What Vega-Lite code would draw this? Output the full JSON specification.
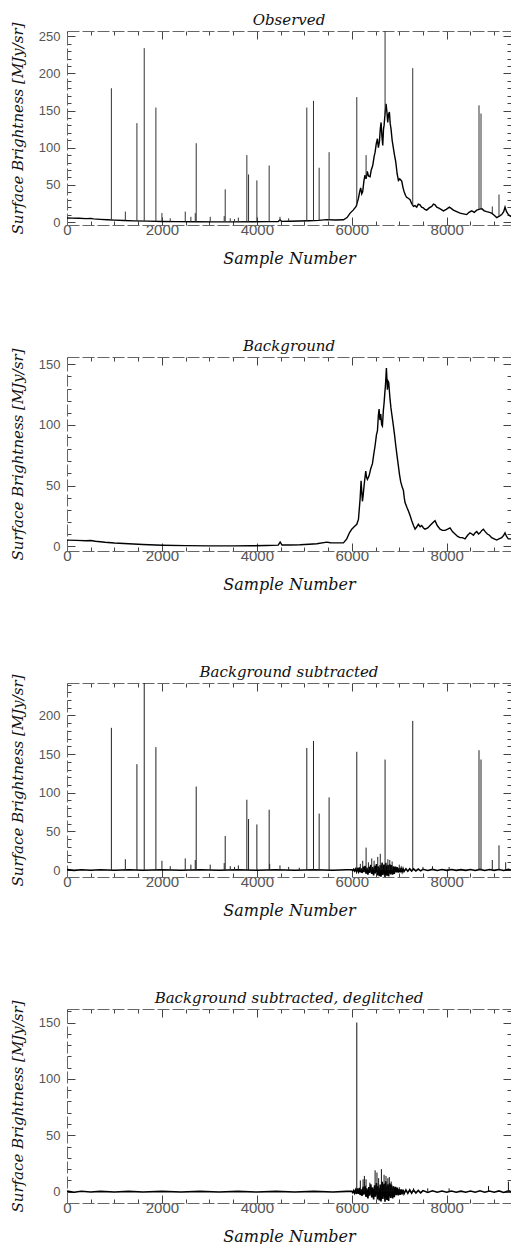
{
  "$schema": "https://vega.github.io/schema/vega-lite/v6.json",
  "background": "white",
  "padding": {"left": 10, "top": 12, "right": 0, "bottom": 0},
  "spacing": 72,
  "config": {
    "view": {"stroke": null},
    "axis": {
      "grid": false,
      "domainColor": "#666",
      "domainDash": [12, 3],
      "domainWidth": 1,
      "tickColor": "#444",
      "tickWidth": 1,
      "labelFont": "Liberation Sans",
      "labelColor": "#555",
      "labelFlush": false,
      "labelOverlap": false,
      "titleFont": "DejaVu Serif",
      "titleFontStyle": "italic",
      "titleFontWeight": "normal",
      "titleColor": "#111"
    },
    "title": {"font": "DejaVu Serif", "fontStyle": "italic", "fontWeight": "normal", "fontSize": 15, "color": "#111", "offset": -6, "frame": "group"}
  },
  "datasets": {
    "observed": [
      {"s":0,"v":5.5},{"s":100,"v":5.2},{"s":250,"v":5.0},{"s":400,"v":4.6},{"s":500,"v":4.9},{"s":560,"v":4.2},{"s":700,"v":3.6},{"s":850,"v":3.0},{"s":1000,"v":2.5},{"s":1200,"v":2.0},{"s":1400,"v":1.6},{"s":1700,"v":1.2},{"s":2000,"v":0.8},{"s":2300,"v":0.5},{"s":2700,"v":0.3},{"s":3100,"v":0.2},{"s":3500,"v":0.2},{"s":3900,"v":0.3},{"s":4200,"v":0.5},{"s":4450,"v":0.8},{"s":4490,"v":3.0},{"s":4520,"v":0.9},{"s":4700,"v":1.0},{"s":4900,"v":1.3},{"s":5100,"v":1.8},{"s":5300,"v":2.2},{"s":5470,"v":3.2},{"s":5650,"v":2.8},{"s":5824,"v":3.0},{"s":5900,"v":6},{"s":5965,"v":12},{"s":6030,"v":16},{"s":6091,"v":21},{"s":6140,"v":32},{"s":6170,"v":42},{"s":6187,"v":46},{"s":6210,"v":38},{"s":6230,"v":41},{"s":6255,"v":55},{"s":6278,"v":63},{"s":6300,"v":58},{"s":6327,"v":68},{"s":6350,"v":62},{"s":6385,"v":61},{"s":6410,"v":70},{"s":6441,"v":76},{"s":6470,"v":88},{"s":6491,"v":94},{"s":6515,"v":105},{"s":6540,"v":112},{"s":6560,"v":100},{"s":6582,"v":108},{"s":6600,"v":125},{"s":6617,"v":134},{"s":6635,"v":115},{"s":6652,"v":103},{"s":6668,"v":125},{"s":6680,"v":130},{"s":6700,"v":145},{"s":6722,"v":159},{"s":6740,"v":148},{"s":6757,"v":134},{"s":6775,"v":145},{"s":6792,"v":148},{"s":6810,"v":132},{"s":6827,"v":125},{"s":6850,"v":110},{"s":6877,"v":99},{"s":6900,"v":90},{"s":6926,"v":81},{"s":6955,"v":65},{"s":6982,"v":56},{"s":7010,"v":58},{"s":7052,"v":55},{"s":7080,"v":46},{"s":7101,"v":41},{"s":7130,"v":36},{"s":7158,"v":33},{"s":7190,"v":32},{"s":7228,"v":30},{"s":7260,"v":25},{"s":7298,"v":21},{"s":7330,"v":22},{"s":7368,"v":20},{"s":7400,"v":24},{"s":7438,"v":23},{"s":7470,"v":20},{"s":7508,"v":19},{"s":7540,"v":17},{"s":7579,"v":16},{"s":7630,"v":19},{"s":7684,"v":21},{"s":7720,"v":24},{"s":7754,"v":23},{"s":7790,"v":20},{"s":7825,"v":19},{"s":7880,"v":17},{"s":7930,"v":15},{"s":7990,"v":17},{"s":8056,"v":20},{"s":8100,"v":18},{"s":8140,"v":16},{"s":8210,"v":14},{"s":8281,"v":12},{"s":8350,"v":11},{"s":8421,"v":10},{"s":8470,"v":13},{"s":8526,"v":15},{"s":8580,"v":13},{"s":8632,"v":16},{"s":8680,"v":17},{"s":8737,"v":18},{"s":8790,"v":15},{"s":8842,"v":14},{"s":8900,"v":13},{"s":8947,"v":12},{"s":9000,"v":9},{"s":9053,"v":6},{"s":9110,"v":8},{"s":9158,"v":10},{"s":9200,"v":14},{"s":9228,"v":20},{"s":9260,"v":14},{"s":9298,"v":10},{"s":9354,"v":7}
    ],
    "observedSpikes": [
      {"s":935,"base":2.8,"v":180},{"s":1229,"base":2.0,"v":14},{"s":1473,"base":1.6,"v":133},{"s":1627,"base":1.3,"v":234},{"s":1873,"base":1.0,"v":154},{"s":2000,"base":0.8,"v":12},{"s":2175,"base":0.6,"v":5},{"s":2491,"base":0.4,"v":14},{"s":2610,"base":0.3,"v":7},{"s":2702,"base":0.3,"v":12},{"s":2722,"base":0.3,"v":106},{"s":3017,"base":0.2,"v":7},{"s":3312,"base":0.2,"v":8},{"s":3333,"base":0.2,"v":44},{"s":3439,"base":0.2,"v":5},{"s":3530,"base":0.2,"v":4},{"s":3610,"base":0.2,"v":6},{"s":3789,"base":0.3,"v":90},{"s":3825,"base":0.3,"v":64},{"s":4000,"base":0.4,"v":56},{"s":4259,"base":0.5,"v":76},{"s":4487,"base":1.0,"v":7},{"s":4670,"base":1.0,"v":5},{"s":5052,"base":1.7,"v":154},{"s":5193,"base":1.9,"v":163},{"s":5312,"base":2.2,"v":73},{"s":5522,"base":3.0,"v":94},{"s":6105,"base":22,"v":168},{"s":6301,"base":60,"v":90},{"s":6701,"base":145,"v":257},{"s":7284,"base":22,"v":207},{"s":8680,"base":17,"v":157},{"s":8722,"base":17,"v":146},{"s":8960,"base":12,"v":21},{"s":9101,"base":8,"v":37}
    ],
    "background": [
      {"s":0,"v":5.0},{"s":200,"v":4.8},{"s":400,"v":4.4},{"s":500,"v":4.7},{"s":600,"v":4.0},{"s":800,"v":3.2},{"s":1000,"v":2.6},{"s":1300,"v":2.0},{"s":1600,"v":1.4},{"s":2000,"v":0.8},{"s":2500,"v":0.4},{"s":3000,"v":0.2},{"s":3500,"v":0.2},{"s":3860,"v":0.3},{"s":4200,"v":0.5},{"s":4450,"v":0.8},{"s":4491,"v":3.3},{"s":4530,"v":0.9},{"s":4700,"v":1.0},{"s":4912,"v":1.2},{"s":5100,"v":1.6},{"s":5263,"v":2.0},{"s":5473,"v":3.3},{"s":5550,"v":2.8},{"s":5684,"v":2.7},{"s":5824,"v":2.7},{"s":5894,"v":6},{"s":5950,"v":11},{"s":5999,"v":14},{"s":6050,"v":16},{"s":6105,"v":18},{"s":6140,"v":22},{"s":6175,"v":39},{"s":6196,"v":54},{"s":6210,"v":45},{"s":6224,"v":37},{"s":6240,"v":42},{"s":6259,"v":50},{"s":6294,"v":62},{"s":6310,"v":57},{"s":6329,"v":55},{"s":6364,"v":58},{"s":6400,"v":64},{"s":6435,"v":68},{"s":6460,"v":75},{"s":6491,"v":83},{"s":6520,"v":92},{"s":6540,"v":95},{"s":6560,"v":108},{"s":6575,"v":113},{"s":6593,"v":104},{"s":6610,"v":109},{"s":6630,"v":100},{"s":6645,"v":99},{"s":6665,"v":112},{"s":6680,"v":118},{"s":6695,"v":126},{"s":6708,"v":132},{"s":6720,"v":140},{"s":6729,"v":147},{"s":6740,"v":138},{"s":6750,"v":129},{"s":6765,"v":136},{"s":6778,"v":135},{"s":6792,"v":128},{"s":6806,"v":121},{"s":6825,"v":114},{"s":6842,"v":109},{"s":6860,"v":104},{"s":6877,"v":99},{"s":6900,"v":92},{"s":6926,"v":83},{"s":6955,"v":74},{"s":6982,"v":66},{"s":7005,"v":59},{"s":7031,"v":53},{"s":7060,"v":49},{"s":7087,"v":46},{"s":7105,"v":40},{"s":7122,"v":36},{"s":7160,"v":32},{"s":7193,"v":29},{"s":7230,"v":25},{"s":7263,"v":21},{"s":7300,"v":17},{"s":7333,"v":14},{"s":7370,"v":16},{"s":7403,"v":18},{"s":7440,"v":16},{"s":7473,"v":17},{"s":7510,"v":15},{"s":7543,"v":14},{"s":7600,"v":15},{"s":7649,"v":17},{"s":7700,"v":19},{"s":7754,"v":21},{"s":7800,"v":17},{"s":7860,"v":14},{"s":7910,"v":13},{"s":7965,"v":13},{"s":8020,"v":14},{"s":8070,"v":15},{"s":8120,"v":12},{"s":8175,"v":10},{"s":8230,"v":8},{"s":8281,"v":7},{"s":8330,"v":7},{"s":8386,"v":6},{"s":8440,"v":9},{"s":8491,"v":11},{"s":8530,"v":10},{"s":8561,"v":9},{"s":8600,"v":11},{"s":8632,"v":12},{"s":8670,"v":10},{"s":8702,"v":11},{"s":8740,"v":13},{"s":8772,"v":14},{"s":8810,"v":12},{"s":8856,"v":10},{"s":8900,"v":9},{"s":8947,"v":7},{"s":9000,"v":6},{"s":9053,"v":5},{"s":9100,"v":6},{"s":9158,"v":7},{"s":9200,"v":9},{"s":9228,"v":11},{"s":9260,"v":8},{"s":9298,"v":6},{"s":9354,"v":6}
    ],
    "residual": [
      {"s":0,"v":0.5},{"s":150,"v":-0.4},{"s":300,"v":0.4},{"s":500,"v":-0.3},{"s":700,"v":0.3},{"s":1000,"v":-0.3},{"s":1300,"v":0.3},{"s":1600,"v":-0.3},{"s":2000,"v":0.3},{"s":2400,"v":-0.3},{"s":2800,"v":0.3},{"s":3200,"v":-0.3},{"s":3600,"v":0.3},{"s":4000,"v":-0.3},{"s":4400,"v":0.3},{"s":4800,"v":-0.3},{"s":5200,"v":0.3},{"s":5600,"v":-0.3},{"s":5900,"v":0.3},
      {"s":6000,"v":0.3},{"s":6020,"v":-0.8},{"s":6040,"v":1.0},{"s":6060,"v":-1.2},{"s":6080,"v":1.4},{"s":6100,"v":-2.0},{"s":6115,"v":2.9},{"s":6140,"v":-1.8},{"s":6160,"v":3.4},{"s":6175,"v":-2.9},{"s":6200,"v":2.1},{"s":6215,"v":-3.8},{"s":6240,"v":4.4},{"s":6255,"v":-2.7},{"s":6280,"v":5.3},{"s":6300,"v":-4.6},{"s":6315,"v":3.1},{"s":6340,"v":-5.9},{"s":6360,"v":4.2},{"s":6375,"v":-3.6},{"s":6400,"v":6.6},{"s":6420,"v":-5.0},{"s":6435,"v":3.8},{"s":6460,"v":-6.8},{"s":6480,"v":5.6},{"s":6495,"v":-4.4},{"s":6520,"v":7.7},{"s":6540,"v":-6.9},{"s":6555,"v":4.9},{"s":6580,"v":-7.8},{"s":6600,"v":6.4},{"s":6615,"v":-8.6},{"s":6640,"v":8.9},{"s":6655,"v":-6.5},{"s":6680,"v":7.1},{"s":6700,"v":-8.8},{"s":6715,"v":9.3},{"s":6740,"v":-7.2},{"s":6760,"v":6.6},{"s":6775,"v":-8.1},{"s":6800,"v":7.4},{"s":6820,"v":-5.6},{"s":6835,"v":6.3},{"s":6860,"v":-5.9},{"s":6880,"v":4.7},{"s":6895,"v":-4.9},{"s":6920,"v":4.3},{"s":6940,"v":-3.1},{"s":6955,"v":3.6},{"s":6980,"v":-3.3},{"s":7000,"v":2.6},{"s":7020,"v":-2.8},{"s":7040,"v":2.1},{"s":7060,"v":-2.4},{"s":7080,"v":1.8},{"s":7100,"v":-1.9},{"s":7140,"v":1.6},{"s":7180,"v":-1.5},{"s":7220,"v":1.7},{"s":7260,"v":-1.3},{"s":7300,"v":1.5},{"s":7350,"v":-1.2},{"s":7400,"v":1.2},{"s":7450,"v":-1.0},{"s":7500,"v":1.0},{"s":7600,"v":-0.6},{"s":7700,"v":0.8},{"s":7800,"v":-0.5},{"s":7900,"v":0.6},{"s":8000,"v":-0.4},{"s":8100,"v":0.6},{"s":8200,"v":-0.4},{"s":8300,"v":0.5},{"s":8400,"v":-0.4},{"s":8500,"v":0.6},{"s":8600,"v":-0.5},{"s":8700,"v":0.8},{"s":8800,"v":-0.5},{"s":8900,"v":0.6},{"s":9000,"v":-0.4},{"s":9100,"v":0.7},{"s":9200,"v":-0.6},{"s":9300,"v":0.8},{"s":9354,"v":0.0}
    ],
    "residualSpikes": [
      {"s":935,"v":184},{"s":1229,"v":14},{"s":1473,"v":137},{"s":1627,"v":242},{"s":1873,"v":159},{"s":2000,"v":12},{"s":2175,"v":5},{"s":2491,"v":15},{"s":2610,"v":7},{"s":2702,"v":13},{"s":2722,"v":108},{"s":3017,"v":7},{"s":3312,"v":9},{"s":3333,"v":44},{"s":3439,"v":5},{"s":3530,"v":4},{"s":3610,"v":6},{"s":3789,"v":91},{"s":3825,"v":66},{"s":4000,"v":59},{"s":4259,"v":78},{"s":4270,"v":8},{"s":4487,"v":6},{"s":4670,"v":4},{"s":4894,"v":3},{"s":5052,"v":158},{"s":5193,"v":167},{"s":5312,"v":73},{"s":5522,"v":94},{"s":6105,"v":153},{"s":6180,"v":8},{"s":6230,"v":12},{"s":6301,"v":29},{"s":6350,"v":10},{"s":6420,"v":15},{"s":6470,"v":12},{"s":6547,"v":17},{"s":6600,"v":21},{"s":6640,"v":10},{"s":6701,"v":143},{"s":6760,"v":14},{"s":6800,"v":13},{"s":6850,"v":11},{"s":7000,"v":7},{"s":7284,"v":193},{"s":7500,"v":4},{"s":7700,"v":5},{"s":8050,"v":4},{"s":8680,"v":155},{"s":8722,"v":143},{"s":8960,"v":13},{"s":9101,"v":32},{"s":9242,"v":10}
    ],
    "deglitchedSpikes": [
      {"s":6105,"v":150},{"s":6180,"v":10},{"s":6238,"v":11},{"s":6265,"v":14},{"s":6300,"v":11},{"s":6380,"v":8},{"s":6491,"v":19},{"s":6530,"v":17},{"s":6565,"v":12},{"s":6624,"v":20},{"s":6680,"v":15},{"s":6720,"v":14},{"s":6760,"v":12},{"s":6790,"v":13},{"s":6830,"v":9},{"s":6870,"v":5},{"s":7000,"v":4},{"s":7300,"v":3},{"s":7600,"v":3},{"s":8050,"v":3},{"s":8880,"v":5},{"s":9300,"v":9}
    ]
  },
  "vconcat": [
    {
      "title": {"text": "Observed"},
      "width": 444, "height": 194,
      "resolve": {"axis": {"x": "independent", "y": "independent"}},
      "layer": [
        {"data": {"name": "observed"}, "mark": {"type": "line", "color": "#000", "strokeWidth": 1.4, "clip": true},
         "encoding": {
           "x": {"field": "s", "type": "quantitative", "scale": {"domain": [0, 9354], "nice": false, "zero": false},
                 "axis": {"orient": "bottom", "title": "Sample Number", "titleFontSize": 16, "titlePadding": 9, "values": [0,500,1000,1500,2000,2500,3000,3500,4000,4500,5000,5500,6000,6500,7000,7500,8000,8500,9000], "format": "d", "labelExpr": "datum.value % 2000 === 0 ? datum.label : ''", "labelFontSize": 15, "labelPadding": 5, "tickSize": {"condition": {"test": "datum.value % 2000 === 0", "value": -8}, "value": -4}}},
           "y": {"field": "v", "type": "quantitative", "scale": {"domain": [-4, 257], "nice": false, "zero": false},
                 "axis": {"orient": "left", "title": "Surface Brightness [MJy/sr]", "titleFontSize": 15, "titlePadding": 13, "values": [0,10,20,30,40,50,60,70,80,90,100,110,120,130,140,150,160,170,180,190,200,210,220,230,240,250], "format": "d", "labelExpr": "datum.value % 50 === 0 ? datum.label : ''", "labelFontSize": 13, "labelPadding": 15, "tickSize": {"condition": {"test": "datum.value % 50 === 0", "value": -8}, "value": -4}}}
         }},
        {"data": {"name": "observedSpikes"}, "mark": {"type": "rule", "color": "#333", "strokeWidth": 1, "clip": true},
         "encoding": {
           "x": {"field": "s", "type": "quantitative", "scale": {"domain": [0, 9354], "nice": false, "zero": false},
                 "axis": {"orient": "top", "title": null, "labels": false, "values": [0,500,1000,1500,2000,2500,3000,3500,4000,4500,5000,5500,6000,6500,7000,7500,8000,8500,9000], "tickSize": {"condition": {"test": "datum.value % 2000 === 0", "value": -8}, "value": -4}}},
           "y": {"field": "base", "type": "quantitative", "scale": {"domain": [-4, 257], "nice": false, "zero": false},
                 "axis": {"orient": "right", "title": null, "labels": false, "values": [0,10,20,30,40,50,60,70,80,90,100,110,120,130,140,150,160,170,180,190,200,210,220,230,240,250], "tickSize": {"condition": {"test": "datum.value % 50 === 0", "value": -8}, "value": -4}}},
           "y2": {"field": "v"}
         }}
      ]
    },
    {
      "title": {"text": "Background"},
      "width": 444, "height": 194,
      "resolve": {"axis": {"x": "independent", "y": "independent"}},
      "layer": [
        {"data": {"name": "background"}, "mark": {"type": "line", "color": "#000", "strokeWidth": 1.4, "clip": true},
         "encoding": {
           "x": {"field": "s", "type": "quantitative", "scale": {"domain": [0, 9354], "nice": false, "zero": false},
                 "axis": {"orient": "bottom", "title": "Sample Number", "titleFontSize": 16, "titlePadding": 9, "values": [0,500,1000,1500,2000,2500,3000,3500,4000,4500,5000,5500,6000,6500,7000,7500,8000,8500,9000], "format": "d", "labelExpr": "datum.value % 2000 === 0 ? datum.label : ''", "labelFontSize": 15, "labelPadding": 5, "tickSize": {"condition": {"test": "datum.value % 2000 === 0", "value": -8}, "value": -4}}},
           "y": {"field": "v", "type": "quantitative", "scale": {"domain": [-4, 156], "nice": false, "zero": false},
                 "axis": {"orient": "left", "title": "Surface Brightness [MJy/sr]", "titleFontSize": 15, "titlePadding": 13, "values": [0,10,20,30,40,50,60,70,80,90,100,110,120,130,140,150], "format": "d", "labelExpr": "datum.value % 50 === 0 ? datum.label : ''", "labelFontSize": 13, "labelPadding": 15, "tickSize": {"condition": {"test": "datum.value % 50 === 0", "value": -8}, "value": -4}}}
         }},
        {"data": {"name": "background"}, "mark": {"type": "line", "color": "#000", "strokeWidth": 0, "opacity": 0, "clip": true},
         "encoding": {
           "x": {"field": "s", "type": "quantitative", "scale": {"domain": [0, 9354], "nice": false, "zero": false},
                 "axis": {"orient": "top", "title": null, "labels": false, "values": [0,500,1000,1500,2000,2500,3000,3500,4000,4500,5000,5500,6000,6500,7000,7500,8000,8500,9000], "tickSize": {"condition": {"test": "datum.value % 2000 === 0", "value": -8}, "value": -4}}},
           "y": {"field": "v", "type": "quantitative", "scale": {"domain": [-4, 156], "nice": false, "zero": false},
                 "axis": {"orient": "right", "title": null, "labels": false, "values": [0,10,20,30,40,50,60,70,80,90,100,110,120,130,140,150], "tickSize": {"condition": {"test": "datum.value % 50 === 0", "value": -8}, "value": -4}}}
         }}
      ]
    },
    {
      "title": {"text": "Background subtracted"},
      "width": 444, "height": 194,
      "resolve": {"axis": {"x": "independent", "y": "independent"}},
      "layer": [
        {"data": {"name": "residual"}, "mark": {"type": "line", "color": "#000", "strokeWidth": 1.6, "clip": true},
         "encoding": {
           "x": {"field": "s", "type": "quantitative", "scale": {"domain": [0, 9354], "nice": false, "zero": false},
                 "axis": {"orient": "bottom", "title": "Sample Number", "titleFontSize": 16, "titlePadding": 9, "values": [0,500,1000,1500,2000,2500,3000,3500,4000,4500,5000,5500,6000,6500,7000,7500,8000,8500,9000], "format": "d", "labelExpr": "datum.value % 2000 === 0 ? datum.label : ''", "labelFontSize": 15, "labelPadding": 5, "tickSize": {"condition": {"test": "datum.value % 2000 === 0", "value": -8}, "value": -4}}},
           "y": {"field": "v", "type": "quantitative", "scale": {"domain": [-9, 242], "nice": false, "zero": false},
                 "axis": {"orient": "left", "title": "Surface Brightness [MJy/sr]", "titleFontSize": 15, "titlePadding": 13, "values": [0,10,20,30,40,50,60,70,80,90,100,110,120,130,140,150,160,170,180,190,200,210,220,230,240], "format": "d", "labelExpr": "datum.value % 50 === 0 ? datum.label : ''", "labelFontSize": 13, "labelPadding": 15, "tickSize": {"condition": {"test": "datum.value % 50 === 0", "value": -8}, "value": -4}}}
         }},
        {"data": {"name": "residualSpikes"}, "mark": {"type": "rule", "color": "#222", "strokeWidth": 1, "clip": true},
         "encoding": {
           "x": {"field": "s", "type": "quantitative", "scale": {"domain": [0, 9354], "nice": false, "zero": false},
                 "axis": {"orient": "top", "title": null, "labels": false, "values": [0,500,1000,1500,2000,2500,3000,3500,4000,4500,5000,5500,6000,6500,7000,7500,8000,8500,9000], "tickSize": {"condition": {"test": "datum.value % 2000 === 0", "value": -8}, "value": -4}}},
           "y": {"field": "v", "type": "quantitative", "scale": {"domain": [-9, 242], "nice": false, "zero": false},
                 "axis": {"orient": "right", "title": null, "labels": false, "values": [0,10,20,30,40,50,60,70,80,90,100,110,120,130,140,150,160,170,180,190,200,210,220,230,240], "tickSize": {"condition": {"test": "datum.value % 50 === 0", "value": -8}, "value": -4}}},
           "y2": {"datum": 0}
         }}
      ]
    },
    {
      "title": {"text": "Background subtracted, deglitched"},
      "width": 444, "height": 194,
      "resolve": {"axis": {"x": "independent", "y": "independent"}},
      "layer": [
        {"data": {"name": "residual"}, "mark": {"type": "line", "color": "#000", "strokeWidth": 1.6, "clip": true},
         "encoding": {
           "x": {"field": "s", "type": "quantitative", "scale": {"domain": [0, 9354], "nice": false, "zero": false},
                 "axis": {"orient": "bottom", "title": "Sample Number", "titleFontSize": 16, "titlePadding": 9, "values": [0,500,1000,1500,2000,2500,3000,3500,4000,4500,5000,5500,6000,6500,7000,7500,8000,8500,9000], "format": "d", "labelExpr": "datum.value % 2000 === 0 ? datum.label : ''", "labelFontSize": 15, "labelPadding": 5, "tickSize": {"condition": {"test": "datum.value % 2000 === 0", "value": -8}, "value": -4}}},
           "y": {"field": "v", "type": "quantitative", "scale": {"domain": [-10, 162], "nice": false, "zero": false},
                 "axis": {"orient": "left", "title": "Surface Brightness [MJy/sr]", "titleFontSize": 15, "titlePadding": 13, "values": [0,10,20,30,40,50,60,70,80,90,100,110,120,130,140,150,160], "format": "d", "labelExpr": "datum.value % 50 === 0 ? datum.label : ''", "labelFontSize": 13, "labelPadding": 15, "tickSize": {"condition": {"test": "datum.value % 50 === 0", "value": -8}, "value": -4}}}
         }},
        {"data": {"name": "deglitchedSpikes"}, "mark": {"type": "rule", "color": "#111", "strokeWidth": 1, "clip": true},
         "encoding": {
           "x": {"field": "s", "type": "quantitative", "scale": {"domain": [0, 9354], "nice": false, "zero": false},
                 "axis": {"orient": "top", "title": null, "labels": false, "values": [0,500,1000,1500,2000,2500,3000,3500,4000,4500,5000,5500,6000,6500,7000,7500,8000,8500,9000], "tickSize": {"condition": {"test": "datum.value % 2000 === 0", "value": -8}, "value": -4}}},
           "y": {"field": "v", "type": "quantitative", "scale": {"domain": [-10, 162], "nice": false, "zero": false},
                 "axis": {"orient": "right", "title": null, "labels": false, "values": [0,10,20,30,40,50,60,70,80,90,100,110,120,130,140,150,160], "tickSize": {"condition": {"test": "datum.value % 50 === 0", "value": -8}, "value": -4}}},
           "y2": {"datum": 0}
         }}
      ]
    }
  ]
}
